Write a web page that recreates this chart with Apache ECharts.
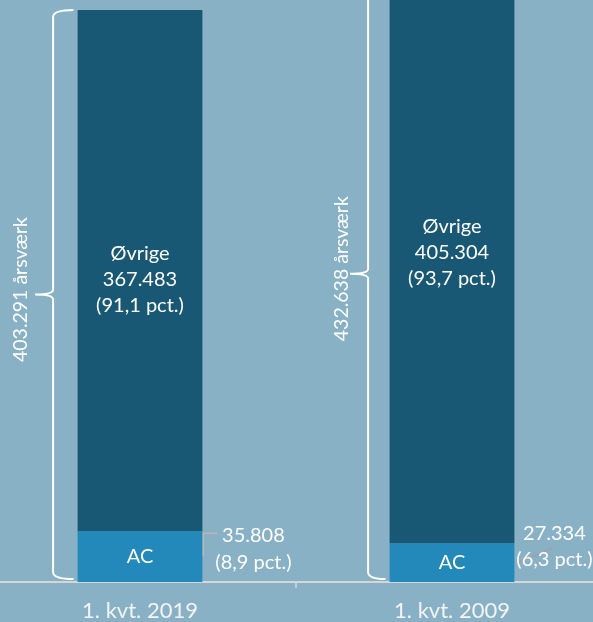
<!DOCTYPE html>
<html><head><meta charset="utf-8">
<script src="https://cdn.jsdelivr.net/npm/echarts@6/dist/echarts.min.js"></script>
<style>html,body{margin:0;padding:0;background:#89b1c6;overflow:hidden;width:593px;height:622px;position:relative}
#c{position:absolute;left:-16px;top:-42px;width:624px;height:664px}</style>
</head><body><div id="c"></div>
<script>
// ---- data ----
const categories = ['1. kvt. 2019', '1. kvt. 2009'];
const acValues = [35808, 27334];
const otherValues = [367483, 405304];
const totals = [403291, 432638];
const acPct = ['8,9', '6,3'];
const otherPct = ['91,1', '93,7'];
const acName = 'AC';
const otherName = 'Øvrige';
const totalUnit = 'årsværk';

// ---- styling ----
const FONT = 'Lato, "Open Sans", sans-serif';
const COL_AC = '#2388ba', COL_OTHER = '#195874', BG = '#89b1c6';
const BAR_FRAC = 0.4;
const otherLabelOffsets = [[0, 9], [0, -3]];
const braceGap = [24.5, 21.5];
const braceTextGap = [32, 26];
const acLabelLayout = [
  {dx: 51, dy1: 4, dy2: 31, kind: 'elbow'},
  {dx: 40, dy1: -10, dy2: 16, kind: 'slant'}
];

function fmt(n){ return String(n).replace(/\B(?=(\d{3})+(?!\d))/g, '.'); }

const chart = echarts.init(document.getElementById('c'));
chart.setOption({
  backgroundColor: BG,
  animation: false,
  grid: {left: 0, right: 0, top: 0, bottom: 40, containLabel: false},
  xAxis: {
    type: 'category', data: categories,
    axisLine: {lineStyle: {color: '#d6d6d6', width: 2}},
    axisTick: {show: true, length: 6, lineStyle: {color: '#d6d6d6', width: 1.5}},
    axisLabel: {color: '#f4f4f4', fontSize: 22, fontFamily: FONT, margin: 18}
  },
  yAxis: {type: 'value', min: 0, max: 440000, show: false, splitLine: {show: false}},
  series: [
    {
      name: acName, type: 'bar', stack: 's', barWidth: (BAR_FRAC*100)+'%',
      data: acValues,
      itemStyle: {color: COL_AC},
      label: {show: true, position: 'inside', formatter: acName, color: '#fff', fontSize: 20, fontFamily: FONT}
    },
    {
      name: otherName, type: 'bar', stack: 's', barWidth: (BAR_FRAC*100)+'%',
      data: otherValues.map((v, i) => ({value: v, label: {offset: otherLabelOffsets[i]}})),
      itemStyle: {color: COL_OTHER},
      label: {
        show: true, position: 'inside', color: '#fff', fontSize: 20, fontFamily: FONT, lineHeight: 26,
        formatter: p => otherName + '\n' + fmt(p.value) + '\n(' + otherPct[p.dataIndex] + ' pct.)'
      }
    },
    {
      type: 'custom', coordinateSystem: 'cartesian2d', clip: false, silent: true, z: 5,
      encode: {x: 0, y: 1},
      data: totals.map((t, i) => [i, t]),
      renderItem: function(params, api){
        const i = api.value(0), t = api.value(1);
        const base = api.coord([i, 0]), top = api.coord([i, t]);
        const band = api.size([1, 0])[0];
        const left = base[0] - band*BAR_FRAC/2;
        const xv = left - braceGap[i];
        const hook = left - 4;
        const y0 = top[1], y1 = base[1] - 3, ym = (y0 + y1)/2;
        const r = 7;
        const path = 'M' + hook + ' ' + y0 + ' Q' + xv + ' ' + y0 + ' ' + xv + ' ' + (y0 + r) +
          ' L' + xv + ' ' + (ym - 5) + ' Q' + xv + ' ' + ym + ' ' + (xv - 18) + ' ' + ym +
          ' M' + (xv - 18) + ' ' + ym + ' Q' + xv + ' ' + ym + ' ' + xv + ' ' + (ym + 5) +
          ' L' + xv + ' ' + (y1 - r) + ' Q' + xv + ' ' + y1 + ' ' + hook + ' ' + y1;
        return {type: 'group', children: [
          {type: 'path', shape: {pathData: path}, style: {fill: 'none', stroke: '#fff', lineWidth: 2}},
          {type: 'text', x: xv - braceTextGap[i], y: ym - 5, rotation: Math.PI/2,
           style: {text: fmt(t) + ' ' + totalUnit, fill: '#fff', font: '19.5px ' + FONT, align: 'center', verticalAlign: 'middle'}}
        ]};
      }
    },
    {
      type: 'custom', coordinateSystem: 'cartesian2d', clip: false, silent: true, z: 5,
      encode: {x: 0, y: 1},
      data: acValues.map((v, i) => [i, v]),
      renderItem: function(params, api){
        const i = api.value(0), v = api.value(1);
        const base = api.coord([i, 0]), top = api.coord([i, v]);
        const band = api.size([1, 0])[0];
        const right = base[0] + band*BAR_FRAC/2;
        const L = acLabelLayout[i];
        const cx = right + L.dx;
        const kids = [
          {type: 'text', x: cx, y: top[1] + L.dy1, style: {text: fmt(v), fill: '#fff', font: '20px ' + FONT, align: 'center', verticalAlign: 'middle'}},
          {type: 'text', x: cx, y: top[1] + L.dy2, style: {text: '(' + acPct[i] + ' pct.)', fill: '#fff', font: '20px ' + FONT, align: 'center', verticalAlign: 'middle'}}
        ];
        if (L.kind === 'elbow') {
          const mid = (top[1] + base[1]) / 2;
          kids.unshift({type: 'polyline', shape: {points: [[right + 1, mid], [right + 1, top[1] + 2], [right + 15, top[1] + 2]]},
            style: {fill: 'none', stroke: '#b8b8b8', lineWidth: 1.5}});
        } else {
          kids.unshift({type: 'line', shape: {x1: right + 2.5, y1: top[1] + 20, x2: right + 38, y2: top[1] + 5},
            style: {stroke: '#ad9a94', lineWidth: 1.3}});
        }
        return {type: 'group', children: kids};
      }
    }
  ]
});
</script>
</body></html>
